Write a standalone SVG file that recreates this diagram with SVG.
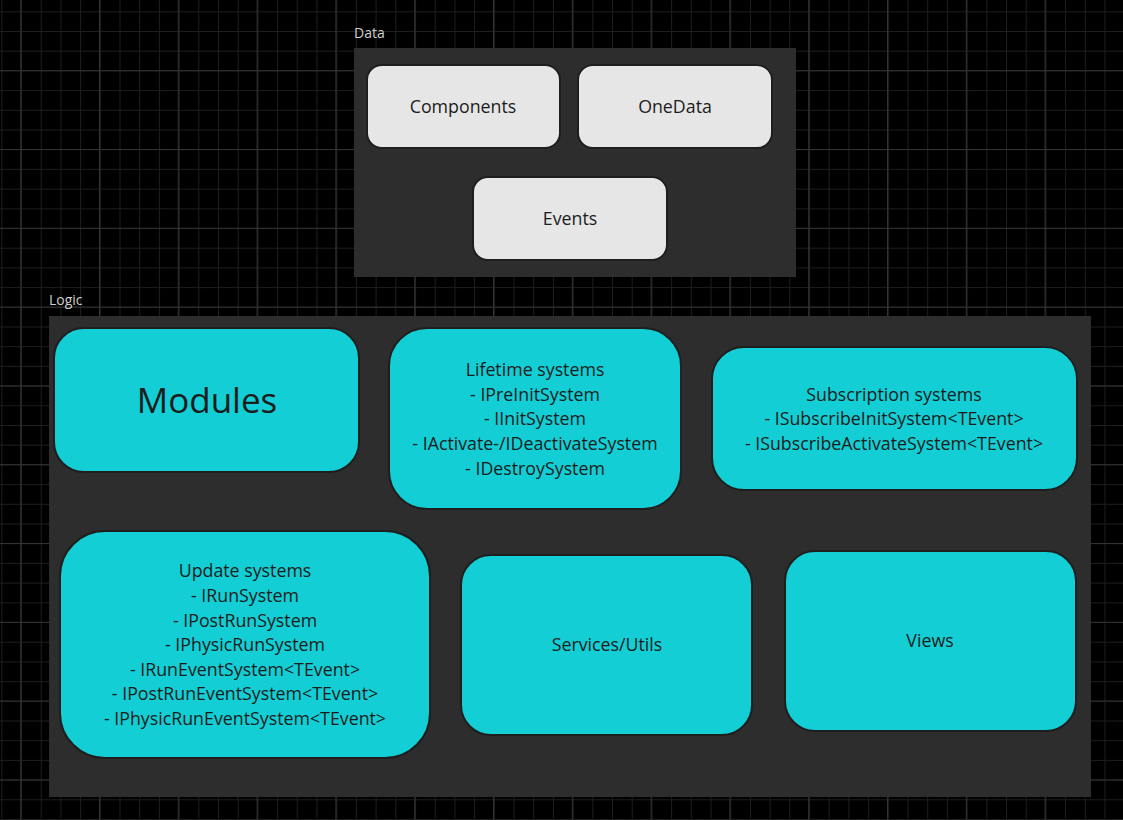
<svg xmlns="http://www.w3.org/2000/svg" width="1123" height="820" viewBox="0 0 1123 820">
<style>
text{font-family:"Open Sans","Noto Sans","DejaVu Sans",sans-serif;}
.frame{fill:#2d2d2d;}
.lbl{fill:#cfcfcf;font-size:14px;}
.light{fill:#e6e6e6;stroke:#1e1e1e;stroke-width:2;}
.cyan{fill:#13ced4;stroke:#1e1e1e;stroke-width:2;}
.t{fill:#1c1c1c;font-size:17.8px;text-anchor:middle;}
</style>
<defs>
<pattern id="minor" x="1.3" y="11.3" width="19.7" height="19.7" patternUnits="userSpaceOnUse">
<path d="M0.5 0V19.7M0 0.5H19.7" stroke="#1e1e1e" stroke-width="1" fill="none"/>
</pattern>
<pattern id="major" x="20.2" y="70.2" width="78.8" height="78.8" patternUnits="userSpaceOnUse">
<path d="M0.5 0V78.8M0 0.5H78.8" stroke="#333333" stroke-width="1.2" fill="none"/>
</pattern>
</defs>
<rect width="1123" height="820" fill="#000"/>
<rect width="1123" height="820" fill="url(#minor)"/>
<rect width="1123" height="820" fill="url(#major)"/>

<g id="data-frame">
<text class="lbl" x="354" y="38">Data</text>
<rect class="frame" x="354" y="48" width="442" height="229"/>
</g>
<g id="logic-frame">
<text class="lbl" x="49" y="305">Logic</text>
<rect class="frame" x="49" y="316" width="1042" height="481"/>
</g>

<g id="components">
<rect class="light" x="367" y="65" width="193" height="83" rx="15"/>
<text class="t" x="463" y="113">Components</text>
</g>
<g id="onedata">
<rect class="light" x="578" y="65" width="194" height="83" rx="15"/>
<text class="t" x="675" y="113">OneData</text>
</g>
<g id="events">
<rect class="light" x="473" y="177" width="194" height="83" rx="15"/>
<text class="t" x="570" y="225">Events</text>
</g>

<g id="modules">
<rect class="cyan" x="54" y="328" width="305" height="144" rx="30"/>
<text class="t" x="207" y="413" style="font-size:35px">Modules</text>
</g>
<g id="lifetime">
<rect class="cyan" x="389" y="328" width="292" height="181" rx="38"/>
<text class="t" x="535" y="376">Lifetime systems</text>
<text class="t" x="535" y="400.7">- IPreInitSystem</text>
<text class="t" x="535" y="425.4">- IInitSystem</text>
<text class="t" x="535" y="450.1">- IActivate-/IDeactivateSystem</text>
<text class="t" x="535" y="474.8">- IDestroySystem</text>
</g>
<g id="subscription">
<rect class="cyan" x="712" y="347" width="365" height="143" rx="32"/>
<text class="t" x="894" y="400.7">Subscription systems</text>
<text class="t" x="894" y="425.4">- ISubscribeInitSystem&lt;TEvent&gt;</text>
<text class="t" x="894" y="450.1">- ISubscribeActivateSystem&lt;TEvent&gt;</text>
</g>
<g id="update">
<rect class="cyan" x="60" y="531" width="370" height="227" rx="45"/>
<text class="t" x="245" y="577.3">Update systems</text>
<text class="t" x="245" y="601.9">- IRunSystem</text>
<text class="t" x="245" y="626.5">- IPostRunSystem</text>
<text class="t" x="245" y="651.1">- IPhysicRunSystem</text>
<text class="t" x="245" y="675.7">- IRunEventSystem&lt;TEvent&gt;</text>
<text class="t" x="245" y="700.3">- IPostRunEventSystem&lt;TEvent&gt;</text>
<text class="t" x="245" y="725">- IPhysicRunEventSystem&lt;TEvent&gt;</text>
</g>
<g id="services">
<rect class="cyan" x="461" y="555" width="291" height="180" rx="30"/>
<text class="t" x="607" y="651">Services/Utils</text>
</g>
<g id="views">
<rect class="cyan" x="785" y="551" width="291" height="180" rx="30"/>
<text class="t" x="930" y="647">Views</text>
</g>
<g id="connectors"></g>
</svg>
